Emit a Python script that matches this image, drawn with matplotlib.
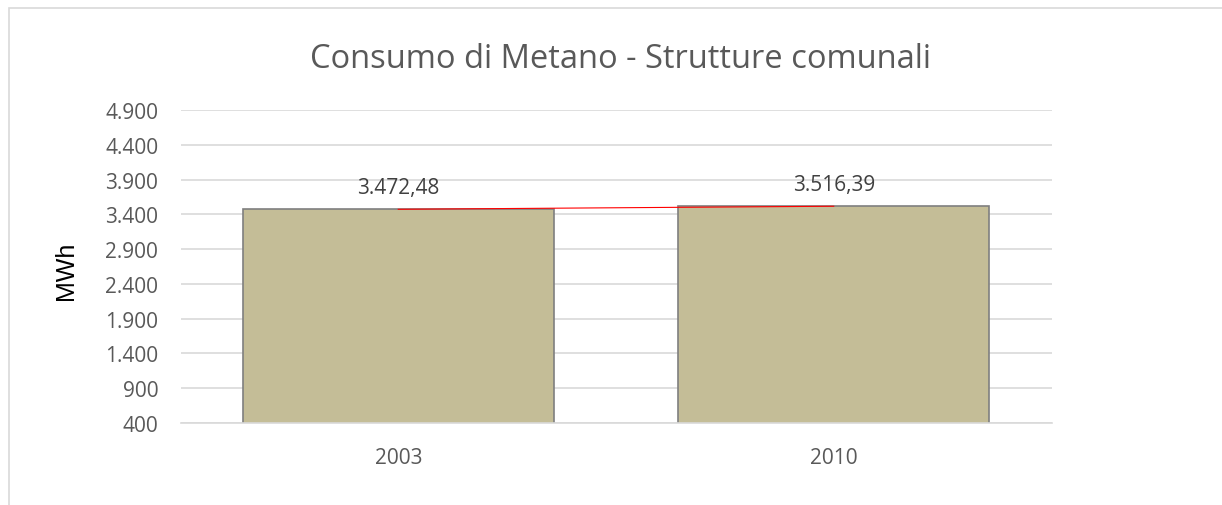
import matplotlib.pyplot as plt
from matplotlib.patches import Rectangle
from matplotlib.ticker import FuncFormatter

# ==========================================
# DATA
# ==========================================

years = ["2003", "2010"]
consumo = [3472.48, 3516.39]
y_ticks = [400, 900, 1400, 1900, 2400, 2900, 3400, 3900, 4400, 4900]


def it_int(v, pos=None):
    return f"{v:,.0f}".replace(",", ".")


def it_dec(v):
    s = f"{v:,.2f}"
    return s.replace(",", "X").replace(".", ",").replace("X", ".")


plt.rcParams["font.family"] = ["Open Sans", "DejaVu Sans"]

W, H = 1222, 506

fig = plt.figure(figsize=(W / 100, H / 100), dpi=100)
ax = fig.add_axes([180.5 / W, 1 - 424 / H, 871 / W, 313 / H])

# outer chart border
fig.patches.append(
    Rectangle((9 / W, -0.1), 1.2, 1 - 9 / H + 0.1,
              transform=fig.transFigure, fill=False,
              edgecolor="#d9d9d9", linewidth=1.2)
)

x = list(range(len(years)))

ax.bar(
    x,
    consumo,
    width=0.715,
    color="#c4bd97",
    edgecolor="#7f7f7f",
    linewidth=1.2,
    zorder=2
)

# linear trendline
slope = consumo[1] - consumo[0]
trend = [consumo[0] + slope * i for i in x]
ax.plot(x, trend, color="#ff0000", linewidth=0.8, zorder=3)

for xi, v in zip(x, consumo):
    ax.annotate(
        it_dec(v),
        (xi, v),
        xytext=(0, 12),
        textcoords="offset points",
        ha="center",
        va="baseline",
        fontsize=15,
        color="#404040"
    )

ax.set_xlim(-0.5, 1.5)
ax.set_ylim(400, 4900)
ax.set_yticks(y_ticks)
ax.yaxis.set_major_formatter(FuncFormatter(it_int))
ax.set_xticks(x)
ax.set_xticklabels(years)

ax.grid(axis="y", color="#d9d9d9", linewidth=1.2, zorder=0)
ax.set_axisbelow(True)

for side in ["top", "right", "left"]:
    ax.spines[side].set_visible(False)
ax.spines["bottom"].set_color("#d9d9d9")
ax.spines["bottom"].set_linewidth(1.2)
ax.spines["bottom"].set_zorder(4)

ax.tick_params(axis="both", length=0, labelsize=15, colors="#595959")
ax.tick_params(axis="y", pad=16)
ax.tick_params(axis="x", pad=17)

fig.text(66 / W, 1 - 271 / H, "MWh", rotation=90,
         ha="center", va="center", fontsize=18, color="#000000",
         family=["Liberation Sans", "DejaVu Sans"])

fig.text(621 / W, 1 - 68 / H, "Consumo di Metano - Strutture comunali",
         ha="center", va="baseline", fontsize=23.5, color="#595959")

fig.savefig("out.png", dpi=100)
